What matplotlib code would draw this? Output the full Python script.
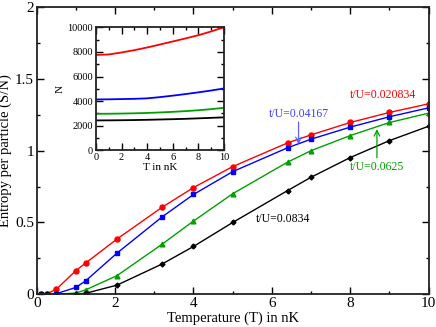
import matplotlib
matplotlib.use("Agg")
import matplotlib.pyplot as plt
from matplotlib.ticker import MultipleLocator

# temperature grid (nK) shared by all four series
temp = [0.1, 0.25, 0.5, 1.0, 1.25, 2.05, 3.2, 4.0, 5.0, 6.4, 7.0, 8.0, 9.0, 10.0]

s_0208 = [0.0, 0.003, 0.035, 0.165, 0.218, 0.385, 0.606, 0.743, 0.889, 1.054, 1.11, 1.196, 1.266, 1.326]
s_0417 = [0.0, 0.0, 0.004, 0.048, 0.094, 0.287, 0.539, 0.695, 0.854, 1.02, 1.08, 1.164, 1.236, 1.298]
s_0625 = [0.0, 0.0, 0.0, 0.009, 0.031, 0.13, 0.349, 0.51, 0.700, 0.92, 1.0, 1.105, 1.196, 1.261]
s_0834 = [0.0, 0.0, 0.0, 0.002, 0.007, 0.064, 0.211, 0.333, 0.500, 0.722, 0.815, 0.952, 1.07, 1.17]

# inset: particle number N vs T
t_in = [0, 1, 2, 3, 4, 5, 6, 7, 8, 9, 10]
n_0208 = [7760, 7800, 7960, 8150, 8370, 8610, 8860, 9110, 9370, 9680, 10020]
n_0417 = [4130, 4140, 4160, 4180, 4220, 4320, 4440, 4570, 4710, 4860, 5030]
n_0625 = [2960, 2965, 2980, 3000, 3030, 3070, 3120, 3180, 3250, 3340, 3450]
n_0834 = [2420, 2425, 2435, 2450, 2470, 2495, 2520, 2550, 2590, 2630, 2670]

plt.rcParams["font.family"] = ["Liberation Serif", "DejaVu Serif"]

RED, BLUE, GREEN, BLACK = "#ff0000", "#0000ff", "#00a000", "#000000"


def style_axes(ax, labelsize):
    ax.tick_params(which="both", direction="in", top=True, right=True,
                   labelsize=labelsize, pad=2)
    ax.tick_params(which="major", length=5, width=1)
    ax.tick_params(which="minor", length=2.5, width=1)
    for sp in ax.spines.values():
        sp.set_linewidth(1.3)
        sp.set_color("#222222")


fig = plt.figure(figsize=(4.36, 3.27), dpi=100)
ax = fig.add_axes([0.0842, 0.100, 0.899, 0.8786])

ax.plot(temp, s_0208, color=RED, lw=1, marker="o", ms=3.6)
ax.plot(temp, s_0417, color=BLUE, lw=1, marker="s", ms=3.2)
ax.plot(temp, s_0625, color=GREEN, lw=1, marker="^", ms=3.4)
ax.plot(temp, s_0834, color=BLACK, lw=1, marker="D", ms=2.5)

ax.set_xlim(0, 10)
ax.set_ylim(0, 2)
ax.xaxis.set_major_locator(MultipleLocator(2))
ax.xaxis.set_minor_locator(MultipleLocator(1))
ax.yaxis.set_major_locator(MultipleLocator(0.5))
ax.yaxis.set_minor_locator(MultipleLocator(0.25))
ax.set_yticks([0, 0.5, 1, 1.5, 2])
ax.set_yticklabels(["0", "0.5", "1", "1.5", "2"])
style_axes(ax, 11)
ax.set_xlabel("Temperature (T) in nK", fontsize=10.5, labelpad=1)
ax.set_ylabel("Entropy per particle (S/N)", fontsize=10.5, labelpad=2)

ax.text(8.0, 1.39, "t/U=0.020834", color=RED, fontsize=8.5, ha="left", va="center")

ax.text(6.68, 1.252, "t/U=0.04167", color="#4040ff", fontsize=8.5, ha="center", va="center")
ax.annotate("", xy=(6.68, 1.045), xytext=(6.68, 1.20),
            arrowprops=dict(arrowstyle="->", color="#6060ff", lw=0.9,
                            shrinkA=0, shrinkB=0))

ax.text(8.68, 0.887, "t/U=0.0625", color=GREEN, fontsize=8.5, ha="center", va="center")
ax.annotate("", xy=(8.68, 1.15), xytext=(8.68, 0.95),
            arrowprops=dict(arrowstyle="->", color=GREEN, lw=0.9,
                            shrinkA=0, shrinkB=0))

ax.text(5.6, 0.525, "t/U=0.0834", color=BLACK, fontsize=8.5, ha="left", va="center")

# inset
ins = fig.add_axes([0.220, 0.541, 0.294, 0.375])
ins.plot(t_in, n_0208, color=RED, lw=1.3)
ins.plot(t_in, n_0417, color=BLUE, lw=1.3)
ins.plot(t_in, n_0625, color=GREEN, lw=1.3)
ins.plot(t_in, n_0834, color=BLACK, lw=1.3)
ins.set_xlim(0, 10)
ins.set_ylim(0, 10000)
ins.xaxis.set_major_locator(MultipleLocator(2))
ins.xaxis.set_minor_locator(MultipleLocator(1))
ins.yaxis.set_major_locator(MultipleLocator(2000))
ins.yaxis.set_minor_locator(MultipleLocator(1000))
style_axes(ins, 7.5)
ins.set_xlabel("T in nK", fontsize=8, labelpad=1)
ins.set_ylabel("N", fontsize=8, labelpad=2)

fig.savefig("out.png", dpi=100)
